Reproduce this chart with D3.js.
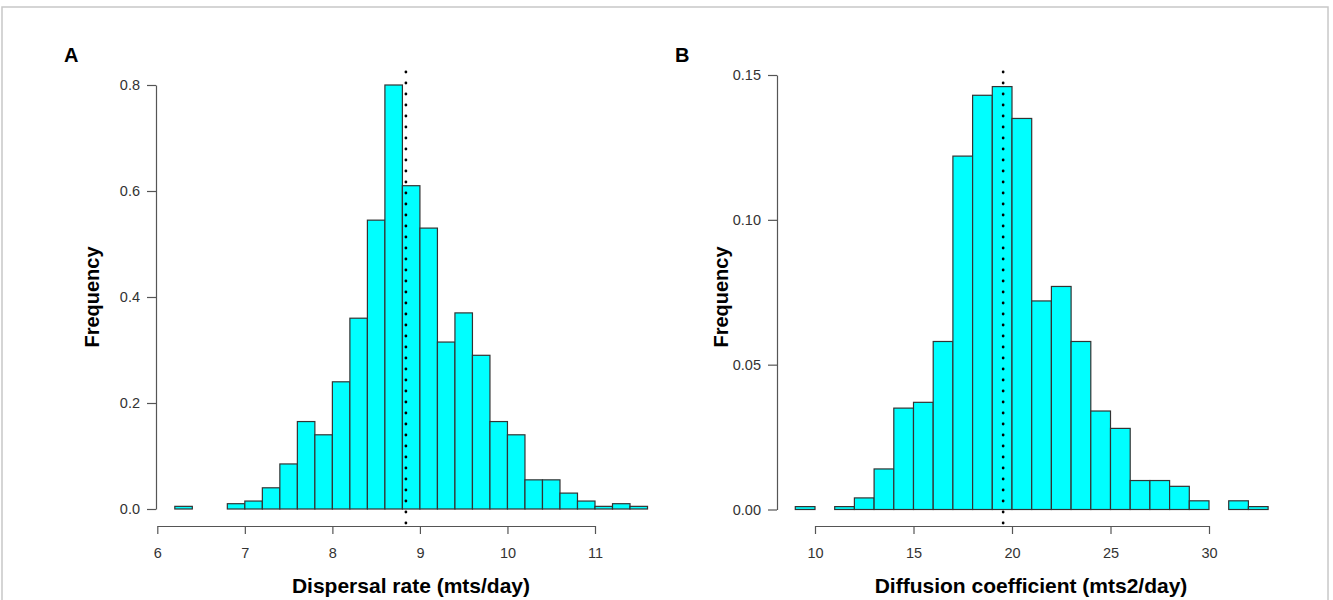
<!DOCTYPE html>
<html>
<head>
<meta charset="utf-8">
<script src="https://cdn.jsdelivr.net/npm/d3@7"></script>
<style>
    body { margin: 0; background: #fff; }
    svg { font-family: "Liberation Sans", Arial, Helvetica, sans-serif; }
    .axis path, .axis line { stroke: #555; stroke-width: 1.2; }
    .axis text { fill: #333; font-size: 14.5px; }
</style>
</head>
<body>
<svg id="chart" width="1333" height="600"></svg>
<script>
// ====================================
// Données
// ====================================
const dispersalEdges = [6.2, 6.4, 6.6, 6.8, 7.0, 7.2, 7.4, 7.6, 7.8, 8.0, 8.2, 8.4, 8.6, 8.8,
    9.0, 9.2, 9.4, 9.6, 9.8, 10.0, 10.2, 10.4, 10.6, 10.8, 11.0, 11.2, 11.4, 11.6];
const dispersalFreq = [0.005, 0, 0, 0.01, 0.015, 0.04, 0.085, 0.165, 0.14, 0.24, 0.36, 0.545, 0.8,
    0.61, 0.53, 0.315, 0.37, 0.29, 0.165, 0.14, 0.055, 0.055, 0.03, 0.015, 0.005, 0.01, 0.005];
const dispersalTicksX = [6, 7, 8, 9, 10, 11];
const dispersalTicksY = [0, 0.2, 0.4, 0.6, 0.8];
const dispersalMean = 8.84;

const diffusionEdges = [9, 10, 11, 12, 13, 14, 15, 16, 17, 18, 19, 20, 21, 22, 23, 24, 25,
    26, 27, 28, 29, 30, 31, 32, 33];
const diffusionFreq = [0.001, 0, 0.001, 0.004, 0.014, 0.035, 0.037, 0.058, 0.122, 0.143, 0.146,
    0.135, 0.072, 0.077, 0.058, 0.034, 0.028, 0.010, 0.010, 0.008, 0.003, 0, 0.003, 0.001];
const diffusionTicksX = [10, 15, 20, 25, 30];
const diffusionTicksY = [0, 0.05, 0.10, 0.15];
const diffusionMean = 19.55;

const svg = d3.select("#chart");

// cadre gris clair
svg.append("rect")
    .attr("x", 2).attr("y", 7)
    .attr("width", 1326).attr("height", 620)
    .attr("fill", "none")
    .attr("stroke", "#c8c8c8")
    .attr("stroke-width", 1.5);

/**
 * Dessine un histogramme façon R
 */
function drawHist(p) {
    const x = d3.scaleLinear().domain(p.xDomain).range(p.xRange);
    const y = d3.scaleLinear().domain(p.yDomain).range(p.yRange);
    const g = svg.append("g");

    const bins = p.freq.map((f, i) => ({ x0: p.edges[i], x1: p.edges[i + 1], f }));

    g.selectAll("rect.bar")
        .data(bins)
        .join("rect")
        .attr("class", "bar")
        .attr("x", d => x(d.x0))
        .attr("y", d => y(d.f))
        .attr("width", d => x(d.x1) - x(d.x0))
        .attr("height", d => y(0) - y(d.f))
        .attr("fill", "#00ffff")
        .attr("stroke", "#333")
        .attr("stroke-width", 1.2);

    // ligne pointillée (moyenne)
    g.append("line")
        .attr("x1", x(p.mean)).attr("x2", x(p.mean))
        .attr("y1", 72).attr("y2", 528)
        .attr("stroke", "#000")
        .attr("stroke-width", 2.8)
        .attr("stroke-linecap", "round")
        .attr("stroke-dasharray", "0,11");

    // axes
    g.append("g")
        .attr("class", "axis")
        .attr("transform", "translate(0,526)")
        .call(d3.axisBottom(x).tickValues(p.ticksX).tickSize(8).tickSizeOuter(0)
            .tickPadding(14).tickFormat(d3.format("d")));

    g.append("g")
        .attr("class", "axis")
        .attr("transform", `translate(${p.yAxisX},0)`)
        .call(d3.axisLeft(y).tickValues(p.ticksY).tickSize(9).tickSizeOuter(0)
            .tickPadding(7).tickFormat(p.yFormat));

    // titres
    g.append("text")
        .attr("x", p.titleX).attr("y", 593)
        .attr("text-anchor", "middle")
        .attr("font-size", 21).attr("font-weight", "bold")
        .text(p.xLabel);

    g.append("text")
        .attr("transform", `translate(${p.freqX},297) rotate(-90)`)
        .attr("text-anchor", "middle")
        .attr("dy", "0.35em")
        .attr("font-size", 20).attr("font-weight", "bold")
        .text("Frequency");

    g.append("text")
        .attr("x", p.letterX).attr("y", 62)
        .attr("font-size", 20).attr("font-weight", "bold")
        .text(p.letter);
}

drawHist({
    edges: dispersalEdges, freq: dispersalFreq, mean: dispersalMean,
    ticksX: dispersalTicksX, ticksY: dispersalTicksY,
    xDomain: [6, 11], xRange: [157.3, 595],
    yDomain: [0, 0.8], yRange: [509, 85],
    yAxisX: 156, yFormat: d3.format(".1f"),
    titleX: 411, freqX: 92, letterX: 64, letter: "A",
    xLabel: "Dispersal rate (mts/day)"
});

drawHist({
    edges: diffusionEdges, freq: diffusionFreq, mean: diffusionMean,
    ticksX: diffusionTicksX, ticksY: diffusionTicksY,
    xDomain: [10, 30], xRange: [815, 1209],
    yDomain: [0, 0.15], yRange: [509.5, 75],
    yAxisX: 777, yFormat: d3.format(".2f"),
    titleX: 1031, freqX: 721, letterX: 675, letter: "B",
    xLabel: "Diffusion coefficient (mts2/day)"
});
</script>
</body>
</html>
